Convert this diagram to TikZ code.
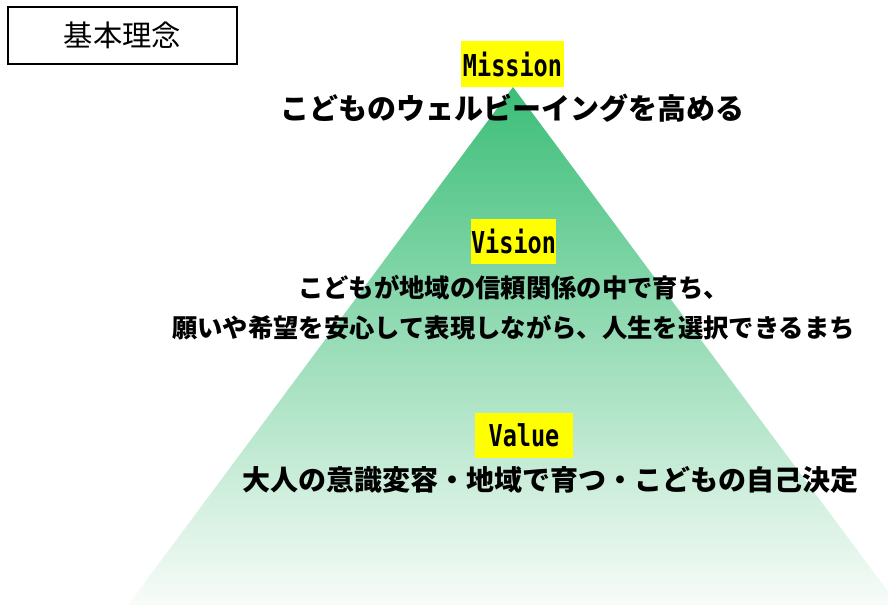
\documentclass[tikz,border=0pt]{standalone}
\usepackage{fontspec}
\newfontfamily\jpfont{Noto Sans CJK JP}
\newfontfamily\labelfont{DejaVu Sans Mono}
\usepackage{xcolor}
\definecolor{apexgreen}{RGB}{60,190,120}
\definecolor{basegreen}{RGB}{248,252,249}
\definecolor{marker}{RGB}{255,255,0}
\usetikzlibrary{positioning}
\newcommand{\labeltext}[1]{\raisebox{-1.5pt}{\scalebox{0.78}[1]{\labelfont\bfseries\fontsize{22.6pt}{26pt}\selectfont #1}}}

\begin{document}
\begin{tikzpicture}[
    x=0.75pt, y=-0.75pt,
    titlebox/.style={
        draw=black,
        line width=1.3pt,
        minimum width=171.75pt,
        minimum height=42.75pt,
        inner sep=0pt,
        font=\jpfont\fontsize{22pt}{26pt}\selectfont
    },
    keyword/.style={
        fill=marker,
        inner sep=0pt,
        minimum height=34pt
    },
    phrase/.style={
        inner sep=0pt,
        align=center,
        font=\jpfont\bfseries\fontsize{21.75pt}{26pt}\selectfont
    }
]

\useasboundingbox (0,0) rectangle (888,605);
\clip (0,0) rectangle (888,605);

% Pyramid
\coordinate (apex) at (513,87);
\coordinate (baseL) at (128,605);
\coordinate (baseR) at (898,605);
\shade[top color=apexgreen, bottom color=basegreen] (apex) -- (baseL) -- (baseR) -- cycle;

% Title
\node[titlebox] (title) at (122.5,35.5) {基本理念};

% Mission
\node[keyword, minimum width=77.25pt] (mission) at (512.5,64) {\labeltext{Mission}};
\node[phrase, below=5pt of mission] (missiontext) {こどものウェルビーイングを高める};

% Vision
\node[keyword, minimum width=63.75pt] (vision) at (513.5,241.5) {\labeltext{Vision}};
\node[phrase, below=7.6pt of vision, font=\jpfont\bfseries\fontsize{19pt}{30pt}\selectfont] (visiontext) {こどもが地域の信頼関係の中で育ち、\\願いや希望を安心して表現しながら、人生を選択できるまち};

% Value
\node[keyword, minimum width=73.5pt] (value) at (524,435.5) {\labeltext{Value}};
\node[phrase, below=6pt of value, xshift=19.5pt, font=\jpfont\bfseries\fontsize{21pt}{26pt}\selectfont] (valuetext) {大人の意識変容・地域で育つ・こどもの自己決定};

\end{tikzpicture}
\end{document}
